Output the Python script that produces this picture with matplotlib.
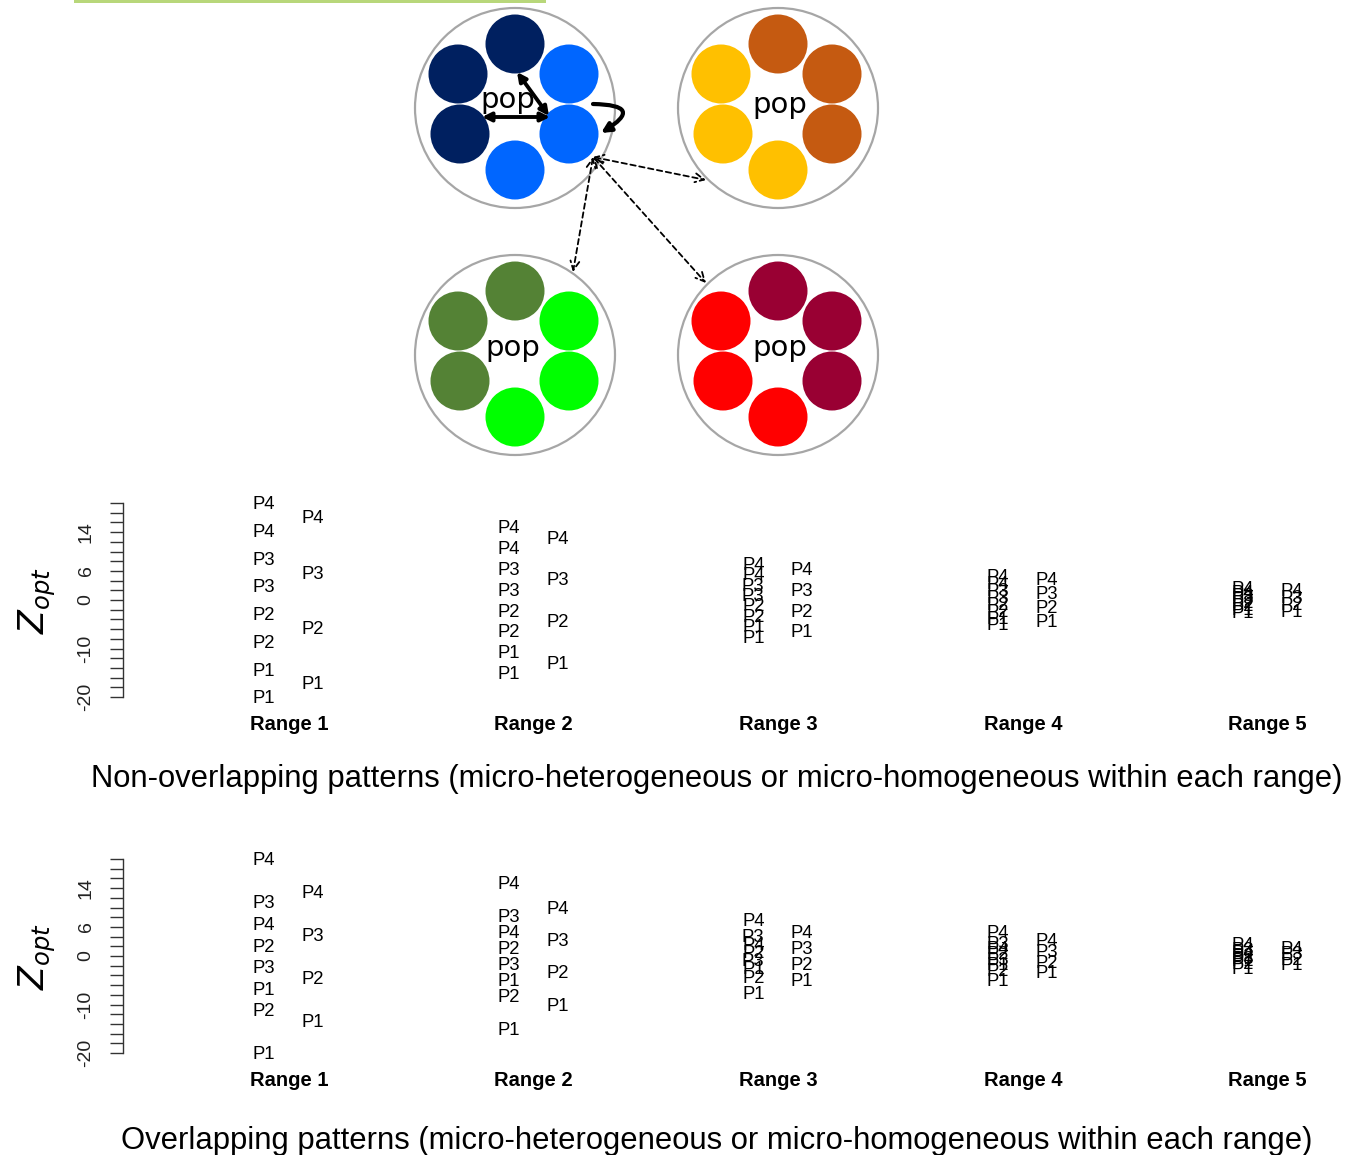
import matplotlib
matplotlib.use("Agg")
import matplotlib.pyplot as plt
from matplotlib.patches import Circle, FancyArrowPatch, Rectangle
import numpy as np

# ---------------- data ----------------
ranges = ["Range 1", "Range 2", "Range 3", "Range 4", "Range 5"]

# Non-overlapping: two sub-population optima per population (left column), and population mean (right column)
nonover_left_labels = ["P4", "P4", "P3", "P3", "P2", "P2", "P1", "P1"]
nonover_left = [
    [20.0, 14.29, 8.57, 2.86, -2.86, -8.57, -14.29, -20.0],
    [15.0, 10.71, 6.43, 2.14, -2.14, -6.43, -10.71, -15.0],
    [7.5, 5.36, 3.21, 1.07, -1.07, -3.21, -5.36, -7.5],
    [5.0, 3.57, 2.14, 0.71, -0.71, -2.14, -3.57, -5.0],
    [2.5, 1.79, 1.07, 0.36, -0.36, -1.07, -1.79, -2.5],
]
nonover_right_labels = ["P4", "P3", "P2", "P1"]
nonover_right = [
    [17.14, 5.71, -5.71, -17.14],
    [12.86, 4.29, -4.29, -12.86],
    [6.43, 2.14, -2.14, -6.43],
    [4.29, 1.43, -1.43, -4.29],
    [2.14, 0.71, -0.71, -2.14],
]

# Overlapping
over_left_labels = ["P4", "P3", "P4", "P2", "P3", "P1", "P2", "P1"]
over_left = [
    [20.0, 11.1, 6.7, 2.2, -2.2, -6.7, -11.1, -20.0],
    [15.0, 8.3, 5.0, 1.7, -1.7, -5.0, -8.3, -15.0],
    [7.5, 4.2, 2.5, 0.8, -0.8, -2.5, -4.2, -7.5],
    [5.0, 2.8, 1.7, 0.6, -0.6, -1.7, -2.8, -5.0],
    [2.5, 1.4, 0.8, 0.3, -0.3, -0.8, -1.4, -2.5],
]
over_right_labels = ["P4", "P3", "P2", "P1"]
over_right = [
    [13.3, 4.4, -4.4, -13.3],
    [10.0, 3.3, -3.3, -10.0],
    [5.0, 1.7, -1.7, -5.0],
    [3.3, 1.1, -1.1, -3.3],
    [1.7, 0.6, -0.6, -1.7],
]

ytick_vals = list(range(-20, 21, 2))
ytick_shown = {14: "14", 6: "6", 0: "0", -10: "-10", -20: "-20"}

captions = [
    "Non-overlapping patterns (micro-heterogeneous or micro-homogeneous within each range)",
    "Overlapping patterns (micro-heterogeneous or micro-homogeneous within each range)",
]

# diagram: populations (center x, center y), subpop colors (top, upper-right, lower-right, bottom, lower-left, upper-left)
pop_centers = [(515, 108), (778, 108), (515, 355), (778, 355)]
pop_colors = [
    ["#002060", "#0066FF", "#0066FF", "#0066FF", "#002060", "#002060"],
    ["#C55A11", "#C55A11", "#C55A11", "#FFC000", "#FFC000", "#FFC000"],
    ["#548235", "#00FF00", "#00FF00", "#00FF00", "#548235", "#548235"],
    ["#990033", "#990033", "#990033", "#FF0000", "#FF0000", "#FF0000"],
]
sub_offsets = [(0, -64), (54, -34), (54, 26), (0, 62), (-55, 26), (-57, -34)]

W, H = 1357, 1155
DPI = 100
plt.rcParams['font.family'] = ['Liberation Sans', 'DejaVu Sans']
fig = plt.figure(figsize=(W / DPI, H / DPI), dpi=DPI)

# ---------------- diagram ----------------
dax = fig.add_axes([0, 1 - 470 / H, 1, 470 / H])
dax.set_xlim(0, W)
dax.set_ylim(470, 0)
dax.axis("off")
dax.add_patch(Rectangle((74, 0), 472, 2.5, color="#B8D77A", lw=0))
for (cx, cy), cols in zip(pop_centers, pop_colors):
    dax.add_patch(Circle((cx, cy), 100, fill=False, ec="#A6A6A6", lw=1.6))
    for (ox, oy), c in zip(sub_offsets, cols):
        dax.add_patch(Circle((cx + ox, cy + oy), 29.5, color=c, lw=0))
pop_text_pos = [(508, 100), (780, 105), (513, 348), (780, 348)]
for (tx, ty) in pop_text_pos:
    dax.text(tx, ty, "pop", fontsize=21, ha="center", va="center",
             family=["DejaVu Sans"], color="black")

# solid arrows within pop 1
dax.add_patch(FancyArrowPatch((517, 72), (549, 116), arrowstyle="<|-|>", mutation_scale=13,
                              lw=2.8, color="black", shrinkA=0, shrinkB=0))
dax.add_patch(FancyArrowPatch((482, 117), (550, 117), arrowstyle="<|-|>", mutation_scale=13,
                              lw=2.8, color="black", shrinkA=0, shrinkB=0))
dax.add_patch(FancyArrowPatch((593, 104), (601, 133), arrowstyle="-|>", mutation_scale=14,
                              connectionstyle="arc3,rad=-1.7", lw=3.0, color="black",
                              shrinkA=0, shrinkB=0))
# dashed migration arrows
src = (593, 157)
for dst in [(706, 180), (573, 272), (706, 283)]:
    dax.add_patch(FancyArrowPatch(src, dst, arrowstyle="<->", mutation_scale=16,
                                  lw=1.3, ls=(0, (3, 2)), color="black",
                                  shrinkA=0, shrinkB=0))

# ---------------- data panels ----------------
SCALE = 4.85  # px per unit
x_centers = [1, 2, 3, 4, 5]
px_per_x = 244.6
x_left_px = 123
x_right_px = 1340
xlim = (1 + (x_left_px - 289) / px_per_x, 1 + (x_right_px - 289) / px_per_x)
ylim = (-22.5, 22.5)
ax_h_px = (ylim[1] - ylim[0]) * SCALE


def panel(zero_px, left_vals, left_labels, right_vals, right_labels, caption, cap_y):
    top_px = zero_px - ylim[1] * SCALE
    ax = fig.add_axes([x_left_px / W, 1 - (top_px + ax_h_px) / H,
                       (x_right_px - x_left_px) / W, ax_h_px / H])
    ax.set_xlim(*xlim)
    ax.set_ylim(*ylim)
    for s in ["top", "right", "bottom"]:
        ax.spines[s].set_visible(False)
    ax.spines["left"].set_bounds(-20, 20)
    ax.spines["left"].set_linewidth(1.0)
    ax.spines["left"].set_color("#333333")
    ax.set_yticks(ytick_vals)
    ax.set_yticklabels([ytick_shown.get(v, "") for v in ytick_vals], rotation=90,
                       va="center", fontsize=14, color="#222222")
    ax.tick_params(axis="y", length=9.5, width=1.0, color="#333333", pad=11)
    ax.set_xticks(x_centers)
    ax.set_xticklabels(ranges, fontsize=14.5, fontweight="bold")
    ax.tick_params(axis="x", length=0, pad=4.2)
    ax.set_ylabel("$Z_{opt}$", fontsize=25, labelpad=14)
    for i, xc in enumerate(x_centers):
        for v, lab in zip(left_vals[i], left_labels):
            ax.text(xc - 0.102, v - 0.35, lab, ha="center", va="center", fontsize=13.3)
        for v, lab in zip(right_vals[i], right_labels):
            ax.text(xc + 0.098, v - 0.35, lab, ha="center", va="center", fontsize=13.3)
    fig.text(717 / W, 1 - (cap_y + 3) / H, caption, ha="center", va="center", fontsize=22.3)
    return ax


panel(600, nonover_left, nonover_left_labels, nonover_right, nonover_right_labels, captions[0], 776)
panel(956, over_left, over_left_labels, over_right, over_right_labels, captions[1], 1138)

fig.savefig("out.png", dpi=DPI)
